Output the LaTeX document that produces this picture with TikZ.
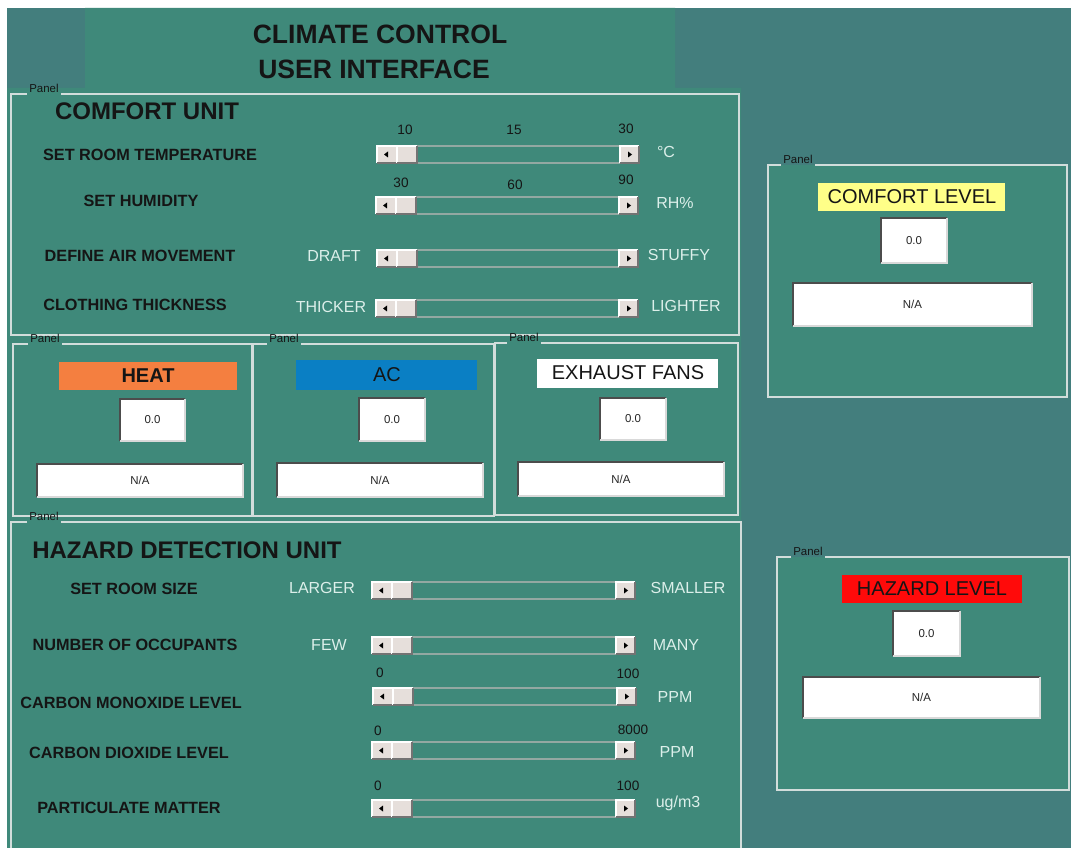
\documentclass[tikz,border=0pt]{standalone}
\usepackage{fontspec}
\setmainfont{Liberation Sans}
\definecolor{outerbg}{HTML}{437E7D}
\definecolor{panelbg}{HTML}{3F897A}
\definecolor{plinec}{HTML}{D2DDDB}
\definecolor{lighttxt}{HTML}{DCEFEA}
\definecolor{btnfill}{HTML}{E6DFDB}
\definecolor{trk}{HTML}{93A8A2}
\definecolor{heatc}{HTML}{F47F40}
\definecolor{acc}{HTML}{0A7FC4}
\definecolor{yel}{HTML}{FFFF88}
\definecolor{hazc}{HTML}{FF0A0A}
\definecolor{txtd}{HTML}{151515}
\newcommand\mybtn[3]{%
  \fill[btnfill] (#1,#2) rectangle ({#1+#3},{#2+17});
  \draw[white, line width=0.8pt] (#1,{#2+17}) -- (#1,#2) -- ({#1+#3},#2);
  \draw[black!55, line width=0.8pt] ({#1+#3},#2) -- ({#1+#3},{#2+17}) -- (#1,{#2+17});
}
\newcommand\myslider[3]{%
  \draw[trk, line width=0.8pt] ({#1+40},#3) -- ({#2-19},#3) ({#1+40},{#3+17}) -- ({#2-19},{#3+17});
  \mybtn{#1}{#3}{20}
  \mybtn{#1+20}{#3}{20}
  \mybtn{#2-19}{#3}{19}
  \fill[black] ({#1+7},{#3+8.5}) -- ({#1+11},{#3+5.5}) -- ({#1+11},{#3+11.5}) -- cycle;
  \fill[black] ({#2-7},{#3+8.5}) -- ({#2-11},{#3+5.5}) -- ({#2-11},{#3+11.5}) -- cycle;
}
\newcommand\myvalbox[6]{% name x0 y0 x1 y1 text
  \fill[white] (#2,#3) rectangle (#4,#5);
  \draw[black!70, line width=1.3pt] (#2,#5) -- (#2,#3) -- (#4,#3);
  \draw[black!15, line width=1.3pt] (#4,#3) -- (#4,#5) -- (#2,#5);
  \node[valtxt] (#1) at ({(#2+#4)/2},{(#3+#5)/2}) {#6};
}
\newcommand\mypanel[6]{% name x0 y0 x1 y1 labelx
  \coordinate (#1c) at (#2,#3);
  \node[plab, anchor=base west] (#1) at (#6,{#3-1.5}) {Panel};
  \draw[pline] (#1.west |- #1c) -- (#2,#3) -- (#2,#5) -- (#4,#5) -- (#4,#3) -- (#1.east |- #1c);
}
\begin{document}
\begin{tikzpicture}[x=0.75pt,y=-0.75pt,
  pline/.style={draw=plinec, line width=1.2pt},
  plab/.style={font=\fontsize{8.6}{9}\selectfont, text=txtd, inner sep=1.5pt},
  titletxt/.style={font=\fontsize{19.9}{24}\selectfont\bfseries, text=txtd},
  unithead/.style={font=\fontsize{18}{20}\selectfont\bfseries, text=txtd},
  rowlab/.style={font=\fontsize{12.2}{14}\selectfont\bfseries, text=txtd},
  sidetxt/.style={font=\fontsize{12}{14}\selectfont, text=lighttxt},
  ticktxt/.style={font=\fontsize{10.2}{12}\selectfont, text=txtd},
  indtxt/.style={font=\fontsize{15}{17}\selectfont, text=txtd},
  valtxt/.style={font=\fontsize{8.6}{10}\selectfont, text=black!85}
]
\useasboundingbox (0,0) rectangle (1071,848);
\fill[white] (0,0) rectangle (1071,848);
\fill[outerbg] (7,8) rectangle (1071,848);
\fill[panelbg] (85,8) -- (675,8) -- (675,88) -- (741,88) -- (741,848) -- (7,848) -- (7,88) -- (85,88) -- cycle;
\fill[panelbg] (768,165) rectangle (1067,397);
\fill[panelbg] (777,557) rectangle (1069,790);

% title
\node[titletxt] (t1) at (380,34) {CLIMATE CONTROL};
\node[titletxt] (t2) at (374,69) {USER INTERFACE};

% panels
\mypanel{pcu}{11}{94}{739}{335}{27}
\mypanel{pheat}{13}{344}{252}{516}{28}
\mypanel{pac}{253}{344}{494}{516}{267}
\mypanel{pex}{495}{343}{738}{515}{507}
\mypanel{pcl}{768}{165}{1067}{397}{781}
\mypanel{phd}{11}{522}{741}{870}{27}
\mypanel{phl}{777}{557}{1069}{790}{791}

% comfort unit
\node[unithead] (cu) at (147,111) {COMFORT UNIT};
\node[rowlab] (r1) at (150,155) {SET ROOM TEMPERATURE};
\node[rowlab] (r2) at (141,201) {SET HUMIDITY};
\node[rowlab] (r3) at (140,256) {DEFINE AIR MOVEMENT};
\node[rowlab] (r4) at (135,305) {CLOTHING THICKNESS};
\myslider{377}{639}{146}
\myslider{376}{638}{197}
\myslider{377}{638}{250}
\myslider{376}{638}{300}
\node[ticktxt] (k1a) at (405,130) {10};
\node[ticktxt] (k1b) at (514,130) {15};
\node[ticktxt] (k1c) at (626,129) {30};
\node[ticktxt] (k2a) at (401,183) {30};
\node[ticktxt] (k2b) at (515,185) {60};
\node[ticktxt] (k2c) at (626,180) {90};
\node[sidetxt] (s1) at (666,152) {°C};
\node[sidetxt] (s2) at (675,203) {RH\%};
\node[sidetxt] (s3a) at (334,256) {DRAFT};
\node[sidetxt] (s3b) at (679,255) {STUFFY};
\node[sidetxt] (s4a) at (331,307) {THICKER};
\node[sidetxt] (s4b) at (686,306) {LIGHTER};

% actuator panels
\fill[heatc] (59,362) rectangle (237,390);
\node[indtxt, font=\fontsize{15}{17}\selectfont\bfseries] (lheat) at (148,376) {HEAT};
\myvalbox{vheat}{120}{399}{185}{441}{0.0}
\myvalbox{nheat}{37}{464}{243}{497}{N/A}

\fill[acc] (296,360) rectangle (477,390);
\node[indtxt] (lac) at (387,375) {AC};
\myvalbox{vac}{359}{398}{425}{441}{0.0}
\myvalbox{nac}{277}{463}{483}{497}{N/A}

\fill[white] (537,359) rectangle (718,388);
\node[indtxt] (lex) at (628,373) {EXHAUST FANS};
\myvalbox{vex}{600}{398}{666}{440}{0.0}
\myvalbox{nex}{518}{462}{724}{496}{N/A}

% comfort level
\fill[yel] (818,183) rectangle (1005,211);
\node[indtxt] (lcl) at (912,197) {COMFORT LEVEL};
\myvalbox{vcl}{881}{218}{947}{263}{0.0}
\myvalbox{ncl}{793}{283}{1032}{326}{N/A}

% hazard level
\fill[hazc] (842,575) rectangle (1022,603);
\node[indtxt] (lhl) at (932,589) {HAZARD LEVEL};
\myvalbox{vhl}{893}{611}{960}{656}{0.0}
\myvalbox{nhl}{803}{677}{1040}{718}{N/A}

% hazard detection unit
\node[unithead] (hd) at (187,550) {HAZARD DETECTION UNIT};
\node[rowlab] (h1) at (134,589) {SET ROOM SIZE};
\node[rowlab] (h2) at (135,645) {NUMBER OF OCCUPANTS};
\node[rowlab] (h3) at (131,703) {CARBON MONOXIDE LEVEL};
\node[rowlab] (h4) at (129,753) {CARBON DIOXIDE LEVEL};
\node[rowlab] (h5) at (129,808) {PARTICULATE MATTER};
\myslider{372}{635}{582}
\myslider{372}{635}{637}
\myslider{373}{636}{688}
\myslider{372}{635}{742}
\myslider{372}{635}{800}
\node[sidetxt] (hs1a) at (322,588) {LARGER};
\node[sidetxt] (hs1b) at (688,588) {SMALLER};
\node[sidetxt] (hs2a) at (329,645) {FEW};
\node[sidetxt] (hs2b) at (676,645) {MANY};
\node[sidetxt] (hs3) at (675,697) {PPM};
\node[sidetxt] (hs4) at (677,752) {PPM};
\node[sidetxt] (hs5) at (678,803) {ug/m3};
\node[ticktxt] (hk3a) at (380,673) {0};
\node[ticktxt] (hk3b) at (628,674) {100};
\node[ticktxt] (hk4a) at (378,731) {0};
\node[ticktxt] (hk4b) at (633,730) {8000};
\node[ticktxt] (hk5a) at (378,786) {0};
\node[ticktxt] (hk5b) at (628,786) {100};
\end{tikzpicture}
\end{document}
